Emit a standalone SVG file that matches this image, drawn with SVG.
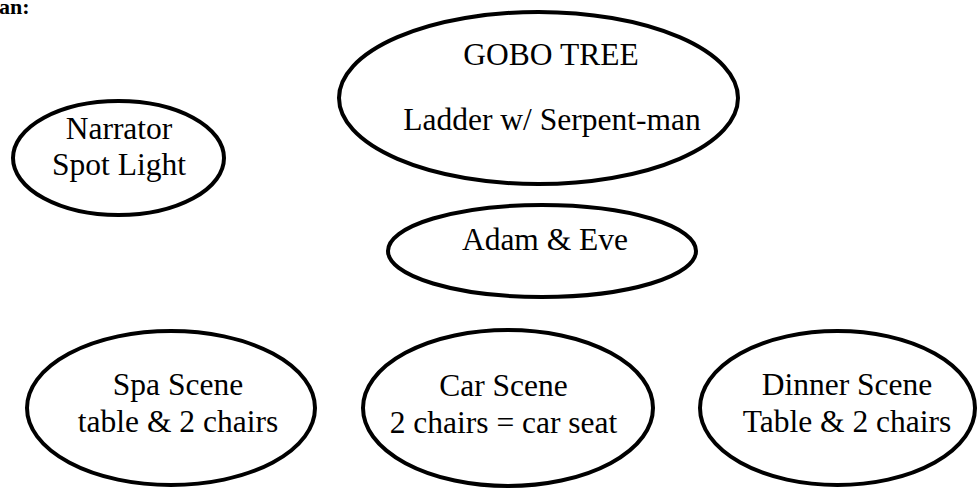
<svg xmlns="http://www.w3.org/2000/svg" width="979" height="491" viewBox="0 0 979 491">
<style>
.n ellipse{fill:#fff;stroke:#000;stroke-width:4}
text{font-family:"Liberation Serif","Times New Roman",serif;font-size:31.5px;fill:#000;text-anchor:middle}
.t{font-weight:bold;font-size:22px;text-anchor:start}
</style>
<rect width="979" height="491" fill="#fff"/>
<text class="t" x="-1" y="14">an:</text>
<g id="connectors"></g>
<g id="narrator" class="n"><ellipse cx="118.5" cy="158" rx="105.5" ry="57"/><text x="119" y="139">Narrator</text><text x="119" y="175">Spot Light</text></g>
<g id="gobo" class="n"><ellipse cx="538.5" cy="98" rx="199.5" ry="86"/><text x="551" y="65">GOBO TREE</text><text x="552" y="130">Ladder w/ Serpent-man</text></g>
<g id="adam" class="n"><ellipse cx="542" cy="251" rx="154" ry="46"/><text x="545" y="250">Adam &amp; Eve</text></g>
<g id="spa" class="n"><ellipse cx="171" cy="408" rx="144" ry="77"/><text x="178" y="395">Spa Scene</text><text x="178" y="432">table &amp; 2 chairs</text></g>
<g id="car" class="n"><ellipse cx="508" cy="408" rx="145" ry="78"/><text x="503.5" y="396">Car Scene</text><text x="503.5" y="433">2 chairs = car seat</text></g>
<g id="dinner" class="n"><ellipse cx="837.5" cy="408" rx="137.5" ry="77"/><text x="847" y="395">Dinner Scene</text><text x="847" y="432">Table &amp; 2 chairs</text></g>
</svg>
